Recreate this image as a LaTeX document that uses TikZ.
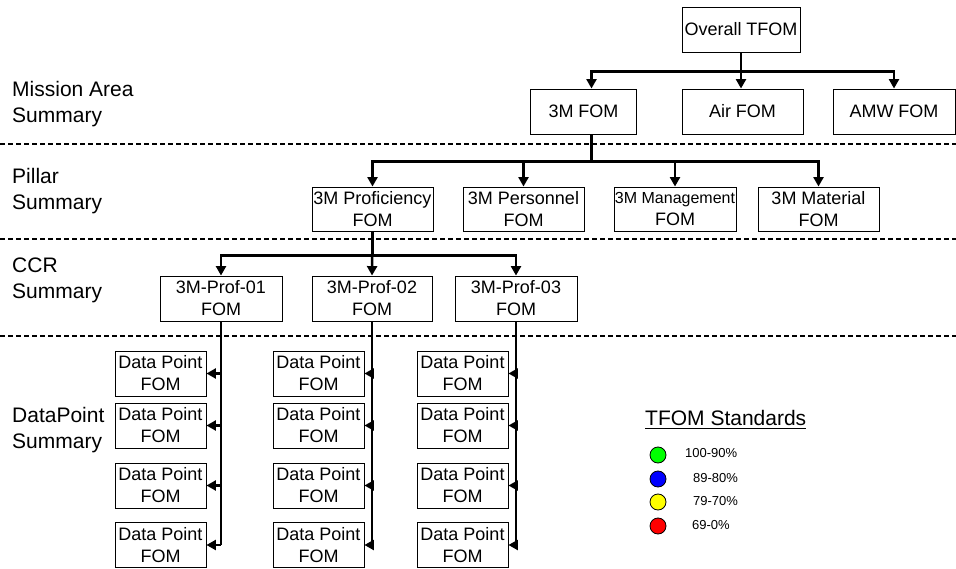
\documentclass[tikz,border=0pt]{standalone}
\usepackage{fontspec}
\setmainfont{Liberation Sans}
\usepackage{tikz}
\usetikzlibrary{arrows.meta}

\tikzset{
  box/.style={draw, line width=0.9pt, minimum height=45, inner sep=0, align=center, font=\fontsize{18}{22}\selectfont},
  dpbox/.style={box, minimum width=91},
  link/.style={line width=2.5pt},
  arr/.style={link, -{Triangle[length=9.5pt,width=10pt]}},
  sep/.style={line width=1.3pt, dash pattern=on 5pt off 3pt},
  lvl/.style={anchor=west, align=left, inner sep=0, font=\fontsize{21}{26}\selectfont},
  dot/.style={draw, circle, line width=0.8pt, minimum size=16, inner sep=0},
  pct/.style={anchor=west, inner sep=0, font=\fontsize{13}{15}\selectfont}
}

\begin{document}
\begin{tikzpicture}[x=1pt,y=-1pt]
\useasboundingbox (0,0) rectangle (956,569);

\draw[sep] (0,144) -- (956,144);
\draw[sep] (0,239) -- (956,239);
\draw[sep] (0,336) -- (956,336);

\node[lvl] (lmission) at (12,104) {Mission Area\\Summary};
\node[lvl] (lpillar) at (12,191) {Pillar\\Summary};
\node[lvl] (lccr) at (12,280) {CCR\\Summary};
\node[lvl] (ldata) at (12,430) {DataPoint\\Summary};

\node[box, minimum width=118] (overall) at (741,29.5) {Overall TFOM};
\node[box, minimum width=106] (m3) at (583.5,111.5) {3M FOM};
\node[box, minimum width=121] (air) at (742.5,111.5) {Air FOM};
\node[box, minimum width=122] (amw) at (894,111.5) {AMW FOM};
\draw[arr] (overall.south) -- ++(0,19) -| ([xshift=8pt]m3.north);
\draw[arr] (overall.south) -- (overall.south |- air.north);
\draw[arr] (overall.south) -- ++(0,19) -| (amw.north);

\node[box, minimum width=121, minimum height=44] (prof) at (372.5,209) {3M Proficiency\\FOM};
\node[box, minimum width=121, minimum height=44] (pers) at (523.5,209) {3M Personnel\\FOM};
\node[box, minimum width=122, minimum height=44] (mgmt) at (675,209) {{\fontsize{16}{20}\selectfont 3M Management}\\FOM};
\node[box, minimum width=121, minimum height=44] (matl) at (818.5,209) {3M Material\\FOM};
\draw[arr] ([xshift=8pt]m3.south) -- ++(0,27) -| (prof.north);
\draw[arr] ([xshift=8pt]m3.south) -- ++(0,27) -| (pers.north);
\draw[arr] ([xshift=8pt]m3.south) -- ++(0,27) -| (mgmt.north);
\draw[arr] ([xshift=8pt]m3.south) -- ++(0,27) -| (matl.north);

\node[box, minimum width=122] (c1) at (221,298.5) {3M-Prof-01\\FOM};
\node[box, minimum width=120] (c2) at (372,298.5) {3M-Prof-02\\FOM};
\node[box, minimum width=122] (c3) at (516,298.5) {3M-Prof-03\\FOM};
\draw[arr] (prof.south) -- ++(0,24) -| (c1.north);
\draw[arr] (prof.south) -- (c2.north);
\draw[arr] (prof.south) -- ++(0,24) -| (c3.north);

\node[dpbox] (d11) at (160.5,373.5) {Data Point\\FOM};
\node[dpbox] (d12) at (160.5,425.5) {Data Point\\FOM};
\node[dpbox] (d13) at (160.5,485.5) {Data Point\\FOM};
\node[dpbox] (d14) at (160.5,545) {Data Point\\FOM};
\node[dpbox] (d21) at (318.5,373.5) {Data Point\\FOM};
\node[dpbox] (d22) at (318.5,425.5) {Data Point\\FOM};
\node[dpbox] (d23) at (318.5,485.5) {Data Point\\FOM};
\node[dpbox] (d24) at (318.5,545) {Data Point\\FOM};
\node[dpbox] (d31) at (462.5,373.5) {Data Point\\FOM};
\node[dpbox] (d32) at (462.5,425.5) {Data Point\\FOM};
\node[dpbox] (d33) at (462.5,485.5) {Data Point\\FOM};
\node[dpbox] (d34) at (462.5,545) {Data Point\\FOM};

\draw[link] (c1.south) -- (c1.south |- d14.east);
\draw[arr] (c1.south |- d11.east) -- (d11.east);
\draw[arr] (c1.south |- d12.east) -- (d12.east);
\draw[arr] (c1.south |- d13.east) -- (d13.east);
\draw[arr] (c1.south |- d14.east) -- (d14.east);
\draw[link] (c2.south) -- (c2.south |- d24.east);
\draw[arr] (c2.south |- d21.east) -- (d21.east);
\draw[arr] (c2.south |- d22.east) -- (d22.east);
\draw[arr] (c2.south |- d23.east) -- (d23.east);
\draw[arr] (c2.south |- d24.east) -- (d24.east);
\draw[link] (c3.south) -- (c3.south |- d34.east);
\draw[arr] (c3.south |- d31.east) -- (d31.east);
\draw[arr] (c3.south |- d32.east) -- (d32.east);
\draw[arr] (c3.south |- d33.east) -- (d33.east);
\draw[arr] (c3.south |- d34.east) -- (d34.east);

\node[anchor=base west, inner sep=0, font=\fontsize{21}{25}\selectfont] (std) at (645,425) {TFOM Standards};
\draw[line width=1.6pt] ([yshift=-3.5pt]std.base west) -- ([yshift=-3.5pt]std.base east);

\node[dot, fill={rgb,255:red,0;green,255;blue,0}] (g1) at (658,455) {};
\node[dot, fill={rgb,255:red,0;green,0;blue,255}] (g2) at (658,479) {};
\node[dot, fill={rgb,255:red,255;green,255;blue,0}] (g3) at (658,502) {};
\node[dot, fill={rgb,255:red,255;green,0;blue,0}] (g4) at (658,526) {};
\node[pct] (t1) at (685,453) {100-90\%};
\node[pct] (t2) at (693,478) {89-80\%};
\node[pct] (t3) at (693,501) {79-70\%};
\node[pct] (t4) at (692,525) {69-0\%};
\end{tikzpicture}
\end{document}
